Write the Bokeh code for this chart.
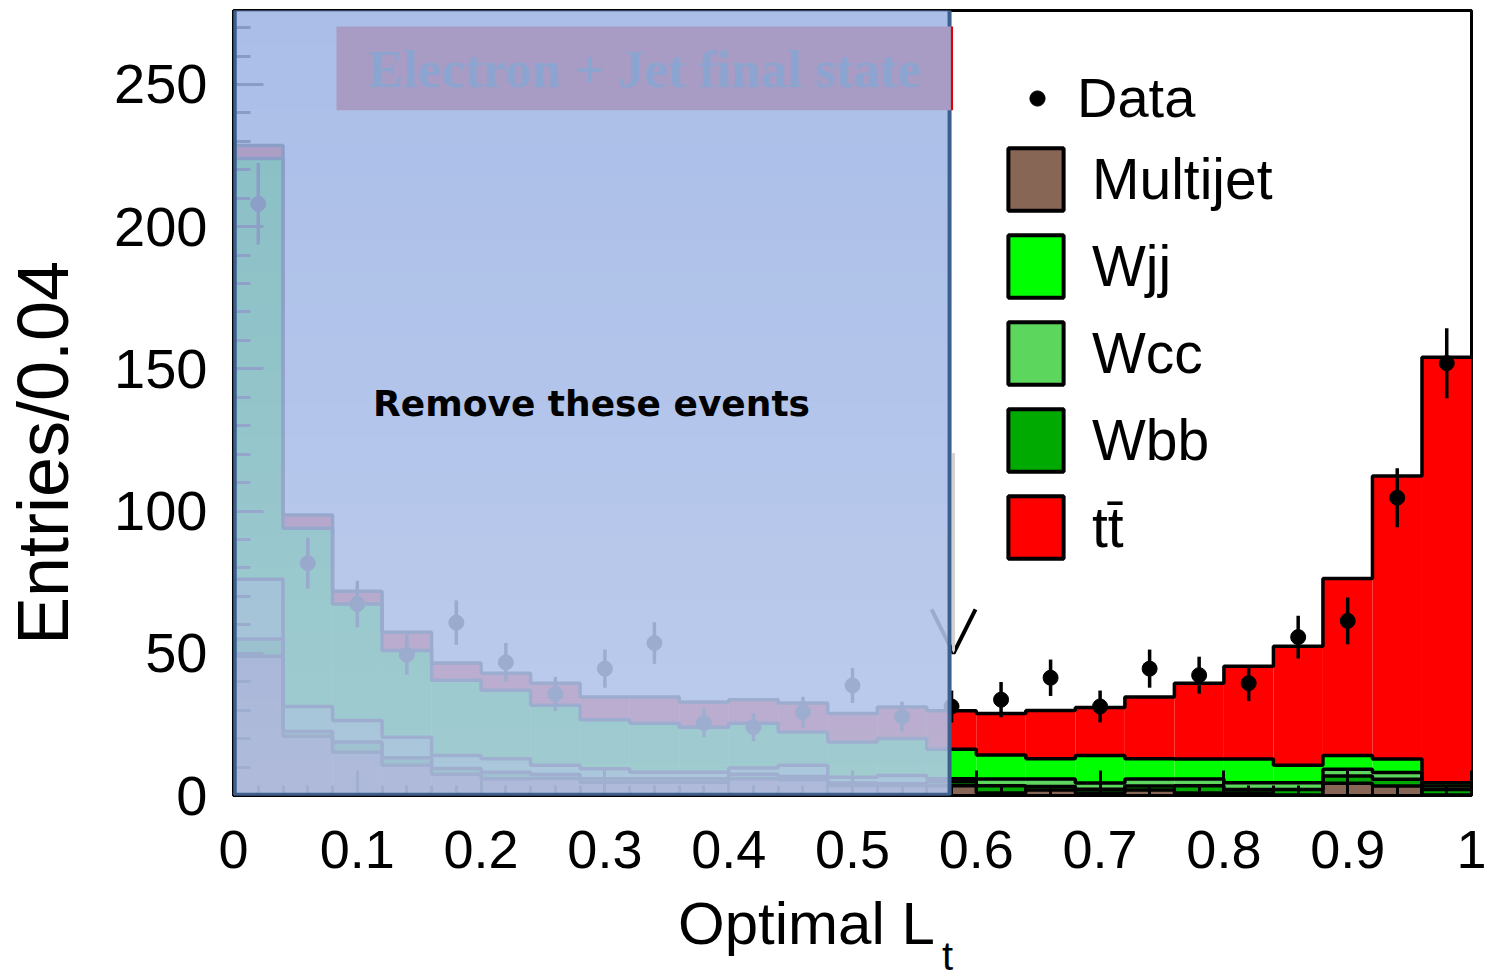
import math
from bokeh.plotting import figure
from bokeh.models import (ColumnDataSource, BoxAnnotation, Label, Legend, LegendItem,
                          Arrow, OpenHead, Range1d, FixedTicker, LinearAxis)
from bokeh.embed import file_html
from bokeh.resources import INLINE

# ---------------- data ----------------
bin_lo = [0.00, 0.04, 0.08, 0.12, 0.16, 0.20, 0.24, 0.28, 0.32, 0.36, 0.40, 0.44, 0.48,
          0.52, 0.56, 0.60, 0.64, 0.68, 0.72, 0.76, 0.80, 0.84, 0.88, 0.92, 0.96]
bin_hi = [0.04, 0.08, 0.12, 0.16, 0.20, 0.24, 0.28, 0.32, 0.36, 0.40, 0.44, 0.48, 0.52,
          0.56, 0.60, 0.64, 0.68, 0.72, 0.76, 0.80, 0.84, 0.88, 0.92, 0.96, 1.00]

multijet = [49.0, 20.8, 15.2, 10.6, 7.5, 5.9, 6.0, 4.7, 4.7, 4.7, 5.9, 5.5, 3.5,
            3.5, 3.4, 0.9, 1.9, 0.9, 1.9, 0.9, 0.9, 0.2, 4.3, 3.3, 0.2]
wbb = [6.0, 1.7, 3.6, 2.7, 2.0, 2.3, 1.4, 1.2, 1.2, 1.2, 1.6, 1.2, 0.9,
       0.6, 1.4, 2.5, 1.3, 1.3, 1.4, 2.5, 1.2, 1.9, 2.6, 2.4, 1.9]
wcc = [21.0, 8.8, 7.6, 7.2, 4.6, 4.7, 3.2, 3.5, 2.3, 2.3, 2.2, 3.9, 2.0,
       2.9, 1.1, 2.4, 2.6, 2.2, 2.5, 2.4, 2.4, 2.4, 2.3, 2.4, 1.2]
wjj = [148.0, 62.7, 40.9, 30.5, 26.4, 24.1, 21.1, 17.2, 17.2, 15.8, 15.7, 11.7, 12.4,
       13.0, 10.4, 8.4, 7.1, 9.7, 7.1, 7.0, 8.3, 6.1, 4.9, 4.7, 1.2]
ttbar = [4.5, 4.6, 4.5, 6.4, 6.1, 6.0, 7.8, 8.0, 9.2, 8.9, 8.3, 10.2, 10.0,
         11.1, 13.5, 14.6, 17.0, 16.8, 21.7, 26.7, 32.6, 41.9, 62.2, 99.5, 149.6]

data_x = [0.02, 0.06, 0.10, 0.14, 0.18, 0.22, 0.26, 0.30, 0.34, 0.38, 0.42, 0.46, 0.50,
          0.54, 0.58, 0.62, 0.66, 0.70, 0.74, 0.78, 0.82, 0.86, 0.90, 0.94, 0.98]
data_y = [208.0, 81.7, 67.3, 49.5, 60.8, 46.8, 35.7, 44.6, 53.6, 25.5, 24.0, 29.3, 38.7,
          27.7, 31.3, 33.7, 41.4, 31.3, 44.6, 42.3, 39.5, 55.7, 61.4, 104.7, 152.0]
data_err = [14.4, 9.0, 8.2, 7.0, 7.8, 6.8, 6.0, 6.7, 7.3, 5.0, 4.9, 5.4, 6.2,
            5.3, 5.6, 6.2, 6.4, 5.6, 6.7, 6.5, 6.3, 7.5, 8.2, 10.4, 12.3]

x_ticks = [0.0, 0.1, 0.2, 0.3, 0.4, 0.5, 0.6, 0.7, 0.8, 0.9, 1.0]
x_tick_labels = ["0", "0.1", "0.2", "0.3", "0.4", "0.5", "0.6", "0.7", "0.8", "0.9", "1"]
y_ticks = [0, 50, 100, 150, 200, 250]

names = ["Multijet", "Wbb", "Wcc", "Wjj", "tt\u0304"]
colors = ["#886656", "#00AA00", "#5CD65C", "#00FF00", "#FF0000"]
components = [multijet, wbb, wcc, wjj, ttbar]
legend_order = ["Multijet", "Wjj", "Wcc", "Wbb", "tt\u0304"]

# ---------------- figure ----------------
p = figure(width=1489, height=980, x_range=Range1d(0, 1), y_range=Range1d(0, 276),
           output_backend="svg", toolbar_location=None,
           min_border_left=233, min_border_right=18, min_border_top=10, min_border_bottom=185)
p.background_fill_color = "white"
p.border_fill_color = "white"
p.xgrid.visible = False
p.ygrid.visible = False
p.outline_line_color = "black"
p.outline_line_width = 3

FONT = "Liberation Sans"
for ax in (p.xaxis[0], p.yaxis[0]):
    ax.axis_line_width = 3
    ax.major_tick_line_width = 3
    ax.minor_tick_line_width = 3
    ax.major_tick_out = 0
    ax.minor_tick_out = 0
    ax.major_label_text_font = FONT
    ax.major_label_text_color = "black"

p.xaxis.ticker = FixedTicker(ticks=x_ticks,
                             minor_ticks=[round(0.02 * i, 2) for i in range(51)])
p.xaxis.major_label_overrides = {t: l for t, l in zip(x_ticks, x_tick_labels)}
p.xaxis.major_label_text_font_size = "54px"
p.xaxis.major_tick_in = 25
p.xaxis.minor_tick_in = 10
p.xaxis.major_label_standoff = 35

p.yaxis.ticker = FixedTicker(ticks=y_ticks, minor_ticks=list(range(0, 280, 10)))
p.yaxis.major_label_text_font_size = "56px"
p.yaxis.major_tick_in = 30
p.yaxis.minor_tick_in = 17
p.yaxis.major_label_standoff = 26
# trailing no-break spaces push the rotated title down to where the reference has it
p.yaxis.axis_label = "Entries/0.04" + "\u00a0" * 5
p.yaxis.axis_label_text_font = FONT
p.yaxis.axis_label_text_font_size = "72px"
p.yaxis.axis_label_text_font_style = "normal"
p.yaxis.axis_label_text_color = "black"
p.yaxis.axis_label_standoff = 28


def label_axis(pos, text, size, standoff):
    return LinearAxis(ticker=FixedTicker(ticks=[pos], minor_ticks=[]),
                      major_label_overrides={pos: text},
                      axis_line_color=None, major_tick_line_color=None,
                      minor_tick_line_color=None,
                      major_tick_in=0, major_tick_out=0, minor_tick_in=0, minor_tick_out=0,
                      major_label_standoff=standoff,
                      major_label_text_font=FONT, major_label_text_font_size=size,
                      major_label_text_color="black")


p.add_layout(label_axis(0.4628, "Optimal L", "60px", 19), "below")
p.add_layout(label_axis(0.5767, "t", "40px", -26), "below")

# ---------------- stacked histogram ----------------
edges = bin_lo + [bin_hi[-1]]
bottom = [0.0] * len(bin_lo)
tops_all = []
srcs = {}
for nm, comp, col in zip(names, components, colors):
    top = [b + v for b, v in zip(bottom, comp)]
    src = ColumnDataSource(dict(left=bin_lo, right=bin_hi, bottom=bottom, top=top))
    srcs[nm] = src
    p.quad(left="left", right="right", bottom="bottom", top="top", source=src,
           fill_color=col, line_color=None)
    tops_all.append(top)
    bottom = top
for top in tops_all:
    p.step(x=edges, y=top + [top[-1]], mode="after", line_color="black", line_width=3.5)

# data points with error bars
lo = [d - e for d, e in zip(data_y, data_err)]
hi = [d + e for d, e in zip(data_y, data_err)]
p.segment(x0=data_x, y0=lo, x1=data_x, y1=hi, line_color="black", line_width=3.5)
data_src = ColumnDataSource(dict(x=data_x, y=data_y))
p.scatter(x="x", y="y", source=data_src, size=15, color="black")

# cut arrow
p.add_layout(Arrow(x_start=0.5816, y_start=120.4, x_end=0.5816, y_end=50.0,
                   line_color="#d2d2d2", line_width=3,
                   end=OpenHead(size=44, line_color="black", line_width=4)))

# ---------------- legend (hidden proxy renderers carry the swatches) ----------------
proxy = {}
for nm, col in zip(names, colors):
    r = p.quad(left="left", right="right", bottom="bottom", top="top", source=srcs[nm],
               fill_color=col, line_color="black", line_width=4)
    r.visible = False
    proxy[nm] = r
items = [LegendItem(label=nm, renderers=[proxy[nm]]) for nm in legend_order]
legend = Legend(items=items, location=(768, 229), orientation="vertical",
                glyph_width=69, glyph_height=78, label_height=62, spacing=9,
                label_standoff=22, padding=0, margin=0,
                border_line_alpha=0, background_fill_alpha=0,
                label_text_font=FONT, label_text_font_size="57px",
                label_text_color="black")
p.add_layout(legend)

r_dot = p.scatter(x="x", y="y", source=data_src, size=15, color="black")
r_dot.visible = False
legend2 = Legend(items=[LegendItem(label="Data", renderers=[r_dot])],
                 location=(785, 665), glyph_width=38, glyph_height=38,
                 label_standoff=21, padding=0, margin=0,
                 border_line_alpha=0, background_fill_alpha=0,
                 label_text_font=FONT, label_text_font_size="56px",
                 label_text_color="black")
p.add_layout(legend2)

# ---------------- "remove" overlay ----------------
cut = 0.5784
p.add_layout(BoxAnnotation(left=0, right=cut, bottom=0, top=None,
                           fill_color="#9CB3E4", fill_alpha=0.86,
                           line_alpha=0, level="overlay"))
nstrip = 24
for i in range(nstrip):
    y0 = 276 * i / nstrip
    y1 = 276 * (i + 1) / nstrip
    a = 0.22 * (1 - (i + 0.5) / nstrip)
    p.add_layout(BoxAnnotation(left=0, right=cut, bottom=y0, top=y1,
                               fill_color="white", fill_alpha=a,
                               line_alpha=0, level="overlay"))
p.add_layout(BoxAnnotation(left=0.001, right=cut, bottom=0.3, top=276.5,
                           fill_alpha=0, line_color="#3C5F8E", line_alpha=1,
                           line_width=4, level="overlay"))

# title box
p.add_layout(BoxAnnotation(left=0.0832, right=0.5795, bottom=240.9, top=270.4,
                           fill_color="#A99CC4", fill_alpha=1, line_alpha=0,
                           level="overlay"))
p.add_layout(BoxAnnotation(left=0.5795, right=0.5812, bottom=240.9, top=270.4,
                           fill_color="#E00000", fill_alpha=1, line_alpha=0,
                           level="overlay"))
p.add_layout(Label(x=0.332, y=255.4, text="Electron + Jet final state",
                   text_align="center", text_baseline="alphabetic",
                   text_font="Liberation Serif", text_font_style="bold",
                   text_font_size="53px", text_color="#8CA4D0", level="overlay"))
p.add_layout(Label(x=0.2892, y=137.9, text="Remove these events",
                   text_align="center", text_baseline="alphabetic",
                   text_font="DejaVu Sans", text_font_style="bold",
                   text_font_size="36px", text_color="black", level="overlay"))

open("out.html", "w").write(file_html(p, INLINE))
